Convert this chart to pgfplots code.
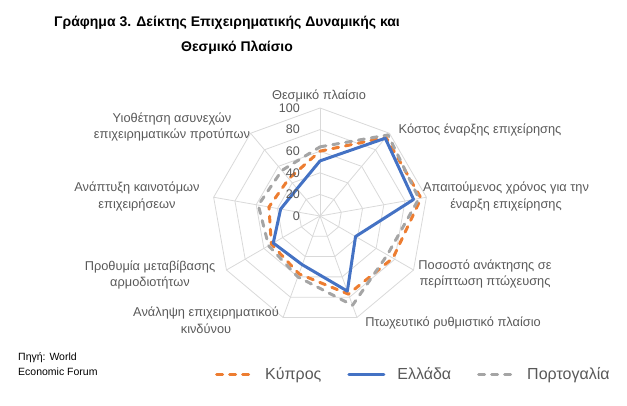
\documentclass[border=0pt]{standalone}
\usepackage{pgfplots}
\pgfplotsset{compat=1.18}
\usepackage{fontspec}
\setmainfont{Liberation Sans}
\definecolor{cOr}{HTML}{ED7D31}
\definecolor{cBl}{HTML}{4472C4}
\definecolor{cGr}{HTML}{A5A5A5}
\definecolor{cGrid}{HTML}{D9D9D9}
\definecolor{cTxt}{HTML}{595959}
\begin{document}
\begin{tikzpicture}
\path (0pt,0pt) rectangle (627pt,406pt);
\begin{axis}[
  at={(0pt,0pt)}, anchor=south west,
  width=627pt, height=406pt, scale only axis,
  xmin=-296.296, xmax=284.259, ymin=-175.926, ymax=200,
  hide axis, clip=false,
  legend columns=3,
  legend cell align=left,
  legend style={at={(0.3429,0.0788)}, anchor=west, draw=none, fill=none,
    inner sep=0pt, font=\fontsize{16}{18}\selectfont, text=cTxt,
    nodes={inner sep=0pt},
    /tikz/every even column/.append style={column sep=26pt}},
  legend image code/.code={\draw[#1] (0pt,0pt) -- (35pt,0pt); \path (47pt,0pt);},
  gridl/.style={cGrid, line width=0.8pt, data cs=polar, forget plot},
  ser/.style={line width=3pt, line cap=round, line join=round, data cs=polar},
]
% polygon grid
\addplot[gridl] coordinates {(90,20)(50,20)(10,20)(-30,20)(-70,20)(-110,20)(-150,20)(-190,20)(-230,20)(-270,20)};
\addplot[gridl] coordinates {(90,40)(50,40)(10,40)(-30,40)(-70,40)(-110,40)(-150,40)(-190,40)(-230,40)(-270,40)};
\addplot[gridl] coordinates {(90,60)(50,60)(10,60)(-30,60)(-70,60)(-110,60)(-150,60)(-190,60)(-230,60)(-270,60)};
\addplot[gridl] coordinates {(90,80)(50,80)(10,80)(-30,80)(-70,80)(-110,80)(-150,80)(-190,80)(-230,80)(-270,80)};
\addplot[gridl] coordinates {(90,100)(50,100)(10,100)(-30,100)(-70,100)(-110,100)(-150,100)(-190,100)(-230,100)(-270,100)};
% spokes
\addplot[gridl] coordinates {(90,0)(90,100)};
\addplot[gridl] coordinates {(50,0)(50,100)};
\addplot[gridl] coordinates {(10,0)(10,100)};
\addplot[gridl] coordinates {(-30,0)(-30,100)};
\addplot[gridl] coordinates {(-70,0)(-70,100)};
\addplot[gridl] coordinates {(-110,0)(-110,100)};
\addplot[gridl] coordinates {(-150,0)(-150,100)};
\addplot[gridl] coordinates {(-190,0)(-190,100)};
\addplot[gridl] coordinates {(-230,0)(-230,100)};
% series (angle, value)
\addplot[ser, cOr, dash pattern=on 6pt off 7pt] coordinates {(90,60)(50,95)(10,95)(-30,78)(-70,77)(-110,57)(-150,52)(-190,48)(-230,45)(-270,60)};
\addlegendentry{Κύπρος}
\addplot[ser, cBl] coordinates {(90,51)(50,94)(10,88)(-30,38)(-70,74)(-110,48)(-150,50)(-190,37)(-230,33)(-270,51)};
\addlegendentry{Ελλάδα}
\addplot[ser, cGr, dash pattern=on 6pt off 7pt] coordinates {(90,64)(50,98)(10,93)(-30,72)(-70,88)(-110,60)(-150,55)(-190,58)(-230,55)(-270,64)};
\addlegendentry{Πορτογαλία}
\end{axis}
% radial tick labels
\begin{scope}[every node/.style={anchor=east, text=cTxt, font=\fontsize{12.5}{14}\selectfont, inner sep=0pt}]
\node at (300pt,190pt) {0};
\node at (300pt,211.6pt) {20};
\node at (300pt,233.2pt) {40};
\node at (300pt,254.8pt) {60};
\node at (300pt,276.4pt) {80};
\node at (300pt,298pt) {100};
\end{scope}
% category labels
\begin{scope}[every node/.style={text=cTxt, font=\fontsize{12.8}{16.5}\selectfont, align=center, inner sep=0pt}]
\node at (319pt,310pt) {Θεσμικό πλαίσιο};
\node at (480pt,276pt) {Κόστος έναρξης επιχείρησης};
\node at (506pt,209.5pt) {Απαιτούμενος χρόνος για την\\έναρξη επιχείρησης};
\node at (485pt,132pt) {Ποσοστό ανάκτησης σε\\περίπτωση πτώχευσης};
\node at (453pt,83pt) {Πτωχευτικό ρυθμιστικό πλαίσιο};
\node at (206pt,86pt) {Ανάληψη επιχειρηματικού\\κινδύνου};
\node at (150pt,131pt) {Προθυμία μεταβίβασης\\αρμοδιοτήτων};
\node at (137pt,209.5pt) {Ανάπτυξη καινοτόμων\\επιχειρήσεων};
\node at (172pt,279pt) {Υιοθέτηση ασυνεχών\\επιχειρηματικών προτύπων};
\end{scope}
% title
\node[font=\bfseries\fontsize{14}{16}\selectfont, inner sep=0pt] at (227pt,383pt) {Γράφημα 3. Δείκτης Επιχειρηματικής Δυναμικής και};
\node[font=\bfseries\fontsize{14}{16}\selectfont, inner sep=0pt] at (237pt,358pt) {Θεσμικό Πλαίσιο};
% source
\node[anchor=north west, align=left, inner sep=0pt, font=\fontsize{10.5}{15}\selectfont] at (18pt,54pt) {Πηγή: World\\Economic Forum};
\end{tikzpicture}
\end{document}
